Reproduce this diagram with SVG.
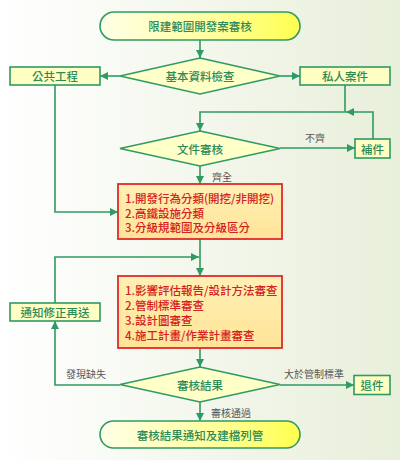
<svg xmlns="http://www.w3.org/2000/svg" width="400" height="460" viewBox="0 0 400 460">
<defs>
<linearGradient id="bg" x1="0" y1="0" x2="1" y2="0">
<stop offset="0" stop-color="#ffffff"/>
<stop offset="1" stop-color="#e8efda"/>
</linearGradient>
<linearGradient id="term" x1="0" y1="0" x2="1" y2="0">
<stop offset="0" stop-color="#ffffe8"/>
<stop offset="0.6" stop-color="#ffff9a"/>
<stop offset="1" stop-color="#ffff50"/>
</linearGradient>
<linearGradient id="redfill" x1="0" y1="0" x2="0" y2="1">
<stop offset="0" stop-color="#fff0b4"/>
<stop offset="1" stop-color="#ffe498"/>
</linearGradient>
<marker id="ah" markerUnits="userSpaceOnUse" markerWidth="8" markerHeight="8" refX="8" refY="4" orient="auto">
<path d="M0,0 L8,4 L0,8 z" fill="#2f9a62"/>
</marker>
<style>
.term{fill:url(#term);stroke:#2f9a62;stroke-width:1.6}
.box{fill:#ffffc4;stroke:#2f9a62;stroke-width:1.6}
.dia{fill:#ffffc8;stroke:#2f9a62;stroke-width:1.6}
.red{fill:url(#redfill);stroke:#e02a2a;stroke-width:1.8}
.gt{font-family:"Noto Sans CJK TC","Noto Sans CJK SC",sans-serif;font-size:11.5px;font-weight:500;fill:#2e8a58;text-anchor:middle;dominant-baseline:central}
.rt{font-family:"Noto Sans CJK TC","Noto Sans CJK SC",sans-serif;font-size:11.5px;font-weight:500;fill:#d42222;dominant-baseline:central}
.lb{font-family:"Noto Sans CJK TC","Noto Sans CJK SC",sans-serif;font-size:10px;fill:#555555;text-anchor:middle;dominant-baseline:central}
.cn{fill:none;stroke:#2f9a62;stroke-width:1.6;marker-end:url(#ah)}
</style>
</defs>
<rect x="0" y="0" width="400" height="460" fill="url(#bg)"/>

<g id="connectors">
<path class="cn" d="M200,40 V58"/>
<path class="cn" d="M120,76 H100"/>
<path class="cn" d="M280,76 H300"/>
<path class="cn" d="M345,85 V112 H200 V131"/>
<path class="cn" d="M373,139 V112 H346"/>
<path class="cn" d="M280,148 H355"/>
<path class="cn" d="M200,166 V184"/>
<path class="cn" d="M55,85 V212 H118"/>
<path class="cn" d="M200,239 V276"/>
<path class="cn" d="M55,303 V257 H199"/>
<path class="cn" d="M200,348 V367"/>
<path class="cn" d="M120,385 H55 V321"/>
<path class="cn" d="M280,385 H354"/>
<path class="cn" d="M200,402 V421"/>
</g>

<g id="labels">
<text class="lb" x="315" y="137">不齊</text>
<text class="lb" x="222" y="176">齊全</text>
<text class="lb" x="86" y="373">發現缺失</text>
<text class="lb" x="314" y="373">大於管制標準</text>
<text class="lb" x="231" y="412">審核通過</text>
</g>

<g id="start">
<rect class="term" x="100" y="12" width="200" height="28" rx="14" ry="14"/>
<text class="gt" x="200" y="26">限建範圍開發案審核</text>
</g>

<g id="basic-check">
<polygon class="dia" points="200,58 280,76 200,94 120,76"/>
<text class="gt" x="200" y="76">基本資料檢查</text>
</g>

<g id="public-works">
<rect class="box" x="10" y="67" width="90" height="18"/>
<text class="gt" x="55" y="76">公共工程</text>
</g>

<g id="private-case">
<rect class="box" x="300" y="67" width="90" height="18"/>
<text class="gt" x="345" y="76">私人案件</text>
</g>

<g id="doc-review">
<polygon class="dia" points="200,131 280,148.5 200,166 120,148.5"/>
<text class="gt" x="200" y="148.5">文件審核</text>
</g>

<g id="supplement">
<rect class="box" x="355" y="139" width="35" height="19"/>
<text class="gt" x="372.5" y="148.5">補件</text>
</g>

<g id="classify">
<rect class="red" x="118" y="184" width="164" height="55"/>
<text class="rt" x="125" y="198">1.開發行為分類(開挖/非開挖)</text>
<text class="rt" x="125" y="212.5">2.高鐵設施分類</text>
<text class="rt" x="125" y="227">3.分級規範圍及分級區分</text>
</g>

<g id="review">
<rect class="red" x="118" y="276" width="164" height="72"/>
<text class="rt" x="125" y="289.5">1.影響評估報告/設計方法審查</text>
<text class="rt" x="125" y="305">2.管制標準審查</text>
<text class="rt" x="125" y="320">3.設計圖審查</text>
<text class="rt" x="125" y="335">4.施工計畫/作業計畫審查</text>
</g>

<g id="notify-fix">
<rect class="box" x="10" y="303" width="90" height="18"/>
<text class="gt" x="55" y="312">通知修正再送</text>
</g>

<g id="result">
<polygon class="dia" points="200,367 280,384.5 200,402 120,384.5"/>
<text class="gt" x="200" y="384.5">審核結果</text>
</g>

<g id="reject">
<rect class="box" x="354" y="375.5" width="36" height="19"/>
<text class="gt" x="372" y="385">退件</text>
</g>

<g id="end">
<rect class="term" x="100" y="421" width="200" height="27" rx="13.5" ry="13.5"/>
<text class="gt" x="200" y="434.5">審核結果通知及建檔列管</text>
</g>
</svg>
